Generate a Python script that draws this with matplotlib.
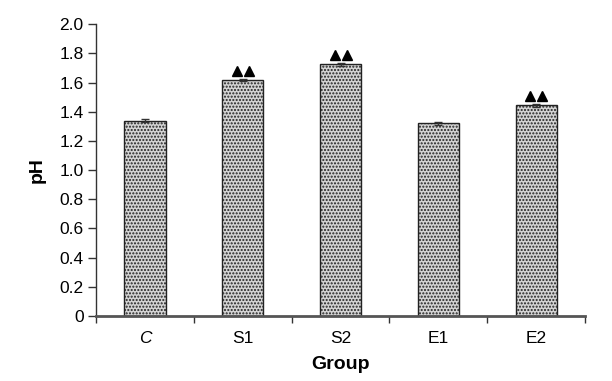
import matplotlib
matplotlib.use("Agg")
import matplotlib.pyplot as plt
import numpy as np

groups = ["C", "S1", "S2", "E1", "E2"]
ph_values = [1.338, 1.616, 1.724, 1.320, 1.445]
ph_errors = [0.010, 0.008, 0.010, 0.008, 0.010]
significant = [False, True, True, False, True]
yticks = [0, 0.2, 0.4, 0.6, 0.8, 1.0, 1.2, 1.4, 1.6, 1.8, 2.0]
ytick_labels = ["0", "0.2", "0.4", "0.6", "0.8", "1.0", "1.2", "1.4", "1.6", "1.8", "2.0"]

plt.rcParams['font.family'] = ['Liberation Sans', 'DejaVu Sans']
plt.rcParams['hatch.color'] = '#555555'

fig = plt.figure(figsize=(6.12, 3.81), dpi=100)
ax = fig.add_axes([0.157, 0.1706, 0.799, 0.766])

x = np.arange(len(groups))
bars = ax.bar(x, ph_values, width=0.42, color='#d4d4d4', edgecolor='#222222',
              linewidth=1.0, hatch='.....', zorder=2)
ax.errorbar(x, ph_values, yerr=ph_errors, fmt='none', ecolor='#333333',
            elinewidth=1.0, capsize=3, capthick=1.0, zorder=3)

for xi, v, s in zip(x, ph_values, significant):
    if s:
        ax.plot([xi - 0.062, xi + 0.062], [v + 0.064, v + 0.064], linestyle='none',
                marker='^', markersize=6.5, color='black', zorder=4)

ax.set_xlim(-0.5, len(groups) - 0.5)
ax.set_ylim(0, 2.0)
ax.set_yticks(yticks)
ax.set_yticklabels(ytick_labels, fontsize=12.5)
ax.set_xticks(x)
ax.set_xticklabels(groups, fontsize=12.5)
ax.get_xticklabels()[0].set_style('italic')
ax.tick_params(axis='x', which='major', length=0, pad=11)
ax.set_xticks(np.arange(-0.5, len(groups), 1.0), minor=True)
ax.tick_params(axis='x', which='minor', length=5, width=1.0, direction='out', color='#333333')
ax.tick_params(axis='y', length=6, width=1.0, direction='out', color='#333333', pad=3)

ax.spines['top'].set_visible(False)
ax.spines['right'].set_visible(False)
ax.spines['left'].set_linewidth(1.0)
ax.spines['left'].set_color('#333333')
ax.spines['bottom'].set_linewidth(2.0)
ax.spines['bottom'].set_color('#555555')

ax.set_ylabel("pH", fontsize=14, fontweight='bold', labelpad=10)
ax.set_xlabel("Group", fontsize=14, fontweight='bold', labelpad=7)

fig.savefig("out.png", dpi=100)
